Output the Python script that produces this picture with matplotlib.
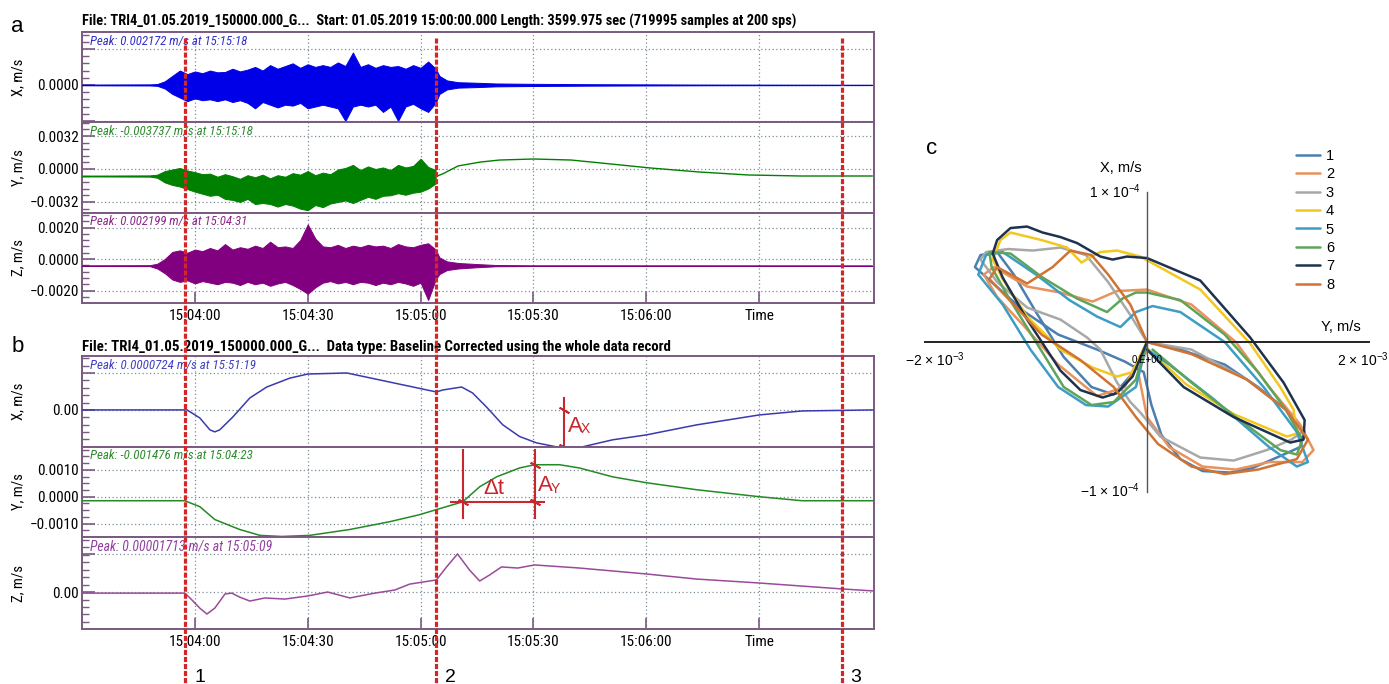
import numpy as np
import matplotlib
matplotlib.use('Agg')
import matplotlib.pyplot as plt
from matplotlib import font_manager
from matplotlib.transforms import blended_transform_factory
from matplotlib.lines import Line2D
from matplotlib.ticker import MultipleLocator

names = {f.name for f in font_manager.fontManager.ttflist}
_cands = ['Liberation Sans Narrow', 'Arial Narrow', 'Roboto Condensed', 'Open Sans Condensed']
NARROW = next((c for c in _cands if c in names), None)
HAS_NARROW = NARROW is not None
if not HAS_NARROW:
    NARROW = 'Liberation Sans'
plt.rcParams['font.family'] = [NARROW, 'DejaVu Sans']
plt.rcParams['mathtext.fontset'] = 'custom'
plt.rcParams['mathtext.rm'] = 'Liberation Sans'
plt.rcParams['mathtext.default'] = 'regular'
TICK_FS = 11 if HAS_NARROW else 9.6
YLAB_FS = 10.5 if HAS_NARROW else 9.2

# ---------------- data ----------------
# time in seconds after 15:03:30
time_ticks = [30, 60, 90, 120, 150, 180]
time_labels = ['15:04:00', '15:04:30', '15:05:00', '15:05:30', '15:06:00', 'Time']
marker_times = [27.5, 94.2, 202.0]
marker_labels = ['1', '2', '3']

title_a = 'File: TRI4_01.05.2019_150000.000_G...  Start: 01.05.2019 15:00:00.000 Length: 3599.975 sec (719995 samples at 200 sps)'
title_b = 'File: TRI4_01.05.2019_150000.000_G...  Data type: Baseline Corrected using the whole data record'
peaks_a = ['Peak: 0.002172 m/s at 15:15:18', 'Peak: -0.003737 m/s at 15:15:18', 'Peak: 0.002199 m/s at 15:04:31']
peaks_b = ['Peak: 0.0000724 m/s at 15:51:19', 'Peak: -0.001476 m/s at 15:04:23', 'Peak: 0.00001713 m/s at 15:05:09']
comp_labels = ['X, m/s', 'Y, m/s', 'Z, m/s']

# panel a: raw velocity envelopes (mm/s)
t_burst = [20, 22, 24, 26, 28, 30, 32, 34, 36, 38, 40, 42, 44, 46, 48, 50, 52, 54, 56, 58,
           60, 62, 64, 66, 68, 70, 72, 74, 76, 78, 80, 82, 84, 86, 88, 90, 92, 94]
ax_burst_hi = [0.05, 0.2, 0.5, 0.8, 0.6, 0.75, 0.65, 0.8, 0.7, 0.72,
               0.9, 0.75, 0.85, 1.0, 0.8, 1.1, 0.9, 1.05, 1.2, 0.95,
               1.15, 1.0, 1.1, 1.0, 1.25, 1.05, 1.8, 1.0, 1.15, 0.95,
               1.1, 1.0, 1.05, 0.9, 1.1, 0.95, 1.3, 0.9]
ax_burst_lo = [-0.05, -0.2, -0.5, -0.7, -0.9, -0.75, -0.85, -0.8, -0.9, -0.8,
               -0.95, -0.85, -1.0, -1.3, -0.95, -1.1, -1.25, -1.1, -1.15, -1.0,
               -1.3, -1.2, -1.1, -1.2, -1.3, -2.0, -1.2, -1.1, -1.2, -1.1,
               -1.5, -1.2, -2.0, -1.2, -1.05, -1.3, -1.5, -1.0]
ax_pre_t, ax_pre_hi, ax_pre_lo = [0, 18], [0.02, 0.03], [-0.02, -0.03]
ax_post_t = [95, 97, 100, 105, 110, 120, 135, 150, 165, 210]
ax_post_hi = [0.5, 0.25, 0.15, 0.12, 0.08, 0.06, 0.04, 0.03, 0.02, 0.01]
ax_post_lo = [-0.5, -0.25, -0.15, -0.12, -0.08, -0.06, -0.04, -0.03, -0.02, -0.01]

ay_burst_hi = [-0.55, -0.2, -0.05, 0.1, -0.15, -0.3, -0.5, -0.45, -0.75, -0.5,
               -0.7, -0.95, -0.6, -0.8, -0.55, -0.9, -0.6, -0.75, -0.4, -0.55,
               -0.2, -0.6, -0.35, -0.5, -0.05, 0.1, 0.4, -0.1, 0.25, 0.0,
               0.15, -0.1, 0.4, 0.15, 0.3, 1.0, 0.2, -0.1]
ay_burst_lo = [-0.85, -1.3, -1.55, -1.7, -1.95, -2.2, -2.4, -2.6, -2.5, -2.9,
               -3.0, -3.2, -2.9, -3.4, -3.3, -3.4, -3.65, -3.4, -3.55, -3.85,
               -4.0, -3.5, -3.7, -3.35, -3.2, -3.05, -3.3, -3.0, -2.7, -2.9,
               -2.6, -2.55, -2.35, -2.5, -2.3, -2.2, -1.9, -1.4]
ay_pre_t, ay_pre_hi, ay_pre_lo = [0, 18], [-0.64, -0.62], [-0.72, -0.74]
ay_tail_t = [94, 96, 100, 106, 111, 120, 130, 138, 151, 164, 177, 191, 210]
ay_tail_v = [-0.75, -0.45, 0.3, 0.68, 0.87, 0.97, 0.87, 0.58, 0.1, -0.29, -0.58, -0.68, -0.68]

az_burst_hi = [-0.3, 0.0, 0.45, 0.55, 0.4, 0.6, 0.5, 0.7, 0.55, 0.95,
               0.6, 0.75, 0.65, 0.85, 0.7, 1.1, 0.75, 0.8, 0.7, 1.2,
               2.2, 1.3, 0.8, 0.75, 0.9, 0.7, 0.85, 0.75, 0.9, 0.8,
               0.85, 0.7, 0.95, 0.8, 0.75, 0.9, 1.0, 0.6]
az_burst_lo = [-0.6, -0.9, -1.3, -1.45, -1.35, -1.55, -1.4, -1.5, -1.6, -1.45,
               -1.5, -1.65, -1.45, -1.6, -1.5, -1.7, -1.55, -1.45, -1.65, -1.9,
               -2.2, -1.8, -1.5, -1.4, -1.55, -1.45, -1.6, -1.45, -1.5, -1.65,
               -1.5, -1.6, -1.45, -1.55, -1.7, -1.5, -2.6, -1.3]
az_pre_t, az_pre_hi, az_pre_lo = [0, 18], [-0.40, -0.39], [-0.44, -0.45]
az_post_t = [95, 97, 100, 105, 110, 120, 210]
az_post_hi = [0.1, -0.15, -0.25, -0.32, -0.38, -0.40, -0.41]
az_post_lo = [-0.95, -0.7, -0.6, -0.52, -0.46, -0.44, -0.43]

# panel b: baseline corrected traces
bx_t = [0, 27.3, 27.9, 31.3, 34.0, 35.3, 36.6, 40.1, 44.6, 49.1, 55.2, 60.0, 70.4, 94.2, 95.9,
        100.9, 103.8, 107.5, 111.8, 116.3, 120.8, 126.1, 133.0, 141.0, 150.0, 163.3, 180.0, 191.4, 210.3]
bx_v = [0, 0, 0, -1.08, -2.7, -2.97, -2.7, -0.95, 1.62, 3.1, 4.3, 4.86, 5.0, 2.43, 2.7,
        3.1, 2.3, 0.4, -2.0, -3.6, -4.46, -5.0, -5.0, -4.05, -3.38, -2.03, -0.68, -0.14, 0]  # 1e-5 m/s

by_t = [0, 27.3, 31.3, 35.3, 41.9, 47.3, 53.1, 60.5, 71.2, 81.8, 89.7, 94.2, 101.2, 105.7, 110.2,
        116.3, 120.3, 126.9, 132.2, 141.0, 150.0, 163.3, 180.0, 191.4, 210.3]
by_v = [-0.15, -0.15, -0.37, -0.85, -1.22, -1.44, -1.48, -1.44, -1.22, -0.93, -0.67, -0.48, -0.19,
        0.37, 0.74, 1.07, 1.19, 1.19, 1.07, 0.74, 0.52, 0.26, 0.0, -0.15, -0.15]  # 1e-3 m/s

bz_t = [0, 27.3, 28.7, 31.3, 33.2, 35.3, 38.0, 39.8, 41.9, 44.6, 48.6, 53.9, 60.0, 65.3, 71.2, 77.8,
        83.1, 87.1, 94.2, 96.9, 99.8, 103.0, 105.7, 108.3, 111.5, 115.8, 120.3, 132.2, 150.0, 163.3,
        180.0, 202.0, 210.3]
bz_v = [-0.05, -0.05, -0.27, -0.73, -1.0, -0.73, -0.09, -0.05, -0.23, -0.41, -0.27, -0.32, -0.18,
        0.0, -0.27, -0.05, 0.09, 0.36, 0.55, 1.14, 1.73, 1.0, 0.5, 0.77, 1.14, 1.09, 1.23, 1.09,
        0.82, 0.59, 0.41, 0.14, 0.05]  # 1e-5 m/s

# panel c: particle motion loops, Y in 1e-3 m/s (horizontal), X in 1e-4 m/s (vertical)
loop_labels = ['1', '2', '3', '4', '5', '6', '7', '8']
loop_colors = ['#4a7fb0', '#e8925c', '#a8a8a8', '#f2c71e', '#3d9dc4', '#5ea55a', '#1e3250', '#cf7434']
Y1 = [0.0, 0.3, 0.7, 1.0, 1.3, 1.42, 1.38, 1.2, 0.95, 0.75, 0.5, 0.3, 0.13, 0.04, -0.03, -0.2, -0.45,
      -0.8, -1.1, -1.4, -1.55, -1.5, -1.35, -1.2, -1.0, -0.75, -0.5, -0.3, -0.12, 0.0]
X1 = [0.0, -0.05, -0.15, -0.3, -0.48, -0.6, -0.7, -0.76, -0.84, -0.87, -0.86, -0.78, -0.62, -0.42, -0.2,
      -0.13, -0.05, 0.05, 0.2, 0.4, 0.5, 0.58, 0.6, 0.45, 0.2, -0.1, -0.3, -0.35, -0.2, 0.0]
Y2 = [0.0, -0.2, -0.45, -0.8, -1.1, -1.35, -1.47, -1.38, -1.08, -0.78, -0.49, -0.27, 0.0, 0.4, 0.8, 1.1,
      1.38, 1.5, 1.4, 1.1, 0.8, 0.5, 0.2, 0.0, -0.08, 0.0]
X2 = [0.0, -0.3, -0.36, -0.15, 0.1, 0.3, 0.45, 0.5, 0.37, 0.33, 0.27, 0.34, 0.35, 0.25, 0.0, -0.3, -0.55,
      -0.72, -0.8, -0.8, -0.85, -0.83, -0.7, -0.5, -0.2, -0.05]
Y3 = [0.0, 0.4, 0.9, 1.25, 1.4, 1.3, 1.08, 0.78, 0.48, 0.12, -0.06, -0.15, -0.27, -0.42, -0.54, -0.78,
      -1.08, -1.35, -1.5, -1.45, -1.25, -1.03, -0.78, -0.55, -0.35, -0.15, 0.0]
X3 = [0.0, -0.05, -0.25, -0.45, -0.6, -0.65, -0.72, -0.79, -0.77, -0.63, -0.47, -0.4, -0.27, -0.05, 0.03,
      0.15, 0.23, 0.4, 0.55, 0.6, 0.62, 0.61, 0.63, 0.58, 0.4, 0.18, 0.0]
Y4 = [0.0, -0.13, -0.27, -0.49, -0.78, -1.08, -1.3, -1.39, -1.32, -1.23, -0.95, -0.72, -0.59, -0.5, -0.42,
      -0.27, -0.06, 0.48, 0.93, 1.2, 1.32, 1.35, 1.26, 0.78, 0.35, 0.0]
X4 = [0.0, -0.2, -0.23, -0.17, -0.05, 0.17, 0.42, 0.55, 0.68, 0.73, 0.68, 0.63, 0.53, 0.57, 0.6, 0.61,
      0.57, 0.35, -0.01, -0.3, -0.45, -0.61, -0.63, -0.48, -0.28, -0.04]
Y5 = [0.0, -0.1, -0.35, -0.55, -0.8, -1.05, -1.3, -1.52, -1.45, -1.3, -1.0, -0.7, -0.45, -0.24, -0.1, 0.05,
      0.3, 0.7, 1.05, 1.35, 1.45, 1.35, 1.1, 0.6, 0.2, 0.0]
X5 = [0.0, -0.3, -0.43, -0.42, -0.3, -0.05, 0.25, 0.45, 0.58, 0.6, 0.45, 0.28, 0.17, 0.1, 0.2, 0.24, 0.2,
      0.0, -0.3, -0.6, -0.8, -0.83, -0.7, -0.38, -0.15, -0.05]
Y6 = [0.0, -0.1, -0.3, -0.5, -0.75, -1.0, -1.25, -1.4, -1.42, -1.23, -0.94, -0.63, -0.36, -0.22, -0.1, 0.0,
      0.3, 0.7, 1.0, 1.25, 1.4, 1.35, 1.2, 0.8, 0.4, 0.05]
X6 = [0.0, -0.25, -0.4, -0.42, -0.3, 0.0, 0.3, 0.5, 0.6, 0.59, 0.43, 0.29, 0.2, 0.29, 0.33, 0.33, 0.28,
      0.05, -0.2, -0.45, -0.65, -0.75, -0.72, -0.5, -0.27, -0.05]
Y7 = [0.0, -0.13, -0.27, -0.4, -0.6, -0.78, -1.08, -1.3, -1.39, -1.35, -1.23, -1.08, -0.94, -0.78, -0.63,
      -0.42, -0.31, -0.18, 0.0, 0.48, 0.93, 1.23, 1.42, 1.41, 1.29, 0.78, 0.33, 0.0]
X7 = [0.0, -0.23, -0.34, -0.37, -0.32, -0.19, 0.15, 0.43, 0.59, 0.68, 0.76, 0.77, 0.73, 0.7, 0.66, 0.57,
      0.55, 0.57, 0.56, 0.41, 0.03, -0.27, -0.52, -0.65, -0.67, -0.5, -0.3, -0.05]
Y8 = [0.0, 0.4, 0.9, 1.25, 1.45, 1.35, 1.0, 0.7, 0.4, 0.1, -0.1, -0.3, -0.6, -0.95, -1.2, -1.42, -1.35,
      -1.08, -0.85, -0.69, -0.5, -0.35, -0.15, -0.03, 0.0]
X8 = [0.0, -0.08, -0.25, -0.45, -0.65, -0.78, -0.85, -0.88, -0.83, -0.68, -0.5, -0.3, -0.12, 0.05, 0.25,
      0.42, 0.5, 0.39, 0.5, 0.61, 0.58, 0.45, 0.25, 0.05, 0.0]

# ---------------- figure ----------------
W, H = 1389, 684
fig = plt.figure(figsize=(W / 100, H / 100), dpi=100)


def box(x0, y0, x1, y1):
    return [x0 / W, 1 - y1 / H, (x1 - x0) / W, (y1 - y0) / H]


SPINE = '#7a5a80'
GRID = '#7d8e98'
RED = '#d42626'
T0, T1 = 0, 210.5
AXL, AXR = 82, 874
a_rows = [(32, 122), (122, 213), (213, 303)]
b_rows = [(356, 447), (447, 537), (537, 629)]


def style(ax, ylim, yticks, ylabels, minor, ylabel, bottom):
    ax.set_xlim(T0, T1)
    ax.set_ylim(*ylim)
    ax.set_yticks(yticks)
    ax.set_yticklabels(ylabels)
    ax.yaxis.set_minor_locator(MultipleLocator(minor))
    ax.set_xticks(time_ticks)
    ax.tick_params(axis='y', which='major', direction='in', length=9, width=1.2,
                   color=SPINE, labelsize=TICK_FS, pad=2, right=False)
    ax.tick_params(axis='y', which='minor', direction='in', length=5, width=1.0,
                   color=SPINE, right=False)
    ax.tick_params(axis='x', which='major', direction='in', length=8 if bottom else 0,
                   width=1.2, color=SPINE, labelsize=TICK_FS, labelbottom=bottom, pad=4, top=False)
    if bottom:
        ax.set_xticklabels(time_labels)
    ax.grid(True, which='major', linestyle=(0, (1, 2)), color=GRID, linewidth=0.9)
    for s in ax.spines.values():
        s.set_color(SPINE)
        s.set_linewidth(1.4)
    ax.set_ylabel(ylabel, fontsize=YLAB_FS)
    ax.yaxis.set_label_coords(-0.072, 0.5)


# ---- panel a ----
colors_a = ['#0000e8', '#008000', '#800080']
peak_colors_a = ['#3030c8', '#2e8b2e', '#8a2a8a']
axes_a = [fig.add_axes(box(AXL, r0, AXR, r1)) for r0, r1 in a_rows]

ta = ax_pre_t + t_burst + ax_post_t
axes_a[0].fill_between(ta, np.array(ax_pre_hi + ax_burst_hi + ax_post_hi) * 1e-3,
                       np.array(ax_pre_lo + ax_burst_lo + ax_post_lo) * 1e-3,
                       color=colors_a[0], linewidth=0.7, zorder=3)
style(axes_a[0], (-2.06e-3, 2.94e-3), [-0.002, 0, 0.002], ['', '0.0000', ''], 0.0004,
      comp_labels[0], False)

ty = ay_pre_t + t_burst
axes_a[1].fill_between(ty, np.array(ay_pre_hi + ay_burst_hi) * 1e-3,
                       np.array(ay_pre_lo + ay_burst_lo) * 1e-3,
                       color=colors_a[1], linewidth=0.7, zorder=3)
axes_a[1].plot(ay_tail_t, np.array(ay_tail_v) * 1e-3, color=colors_a[1], lw=1.0, zorder=3)
style(axes_a[1], (-4.27e-3, 4.56e-3), [-0.0032, 0, 0.0032], ['\u22120.0032', '0.0000', '0.0032'],
      0.00064, comp_labels[1], False)

tz = az_pre_t + t_burst + az_post_t
axes_a[2].fill_between(tz, np.array(az_pre_hi + az_burst_hi + az_post_hi) * 1e-3,
                       np.array(az_pre_lo + az_burst_lo + az_post_lo) * 1e-3,
                       color=colors_a[2], linewidth=0.7, zorder=3)
style(axes_a[2], (-2.79e-3, 2.92e-3), [-0.002, 0, 0.002], ['\u22120.0020', '0.0000', '0.0020'],
      0.0004, comp_labels[2], True)

peak_texts = []
peak_widths_a = [158, 163, 158]
for ax, txt, c, wpx in zip(axes_a, peaks_a, peak_colors_a, peak_widths_a):
    t = ax.text(0.01, 0.9, txt, transform=ax.transAxes, color=c, fontsize=10, style='italic',
                va='center', ha='left', zorder=5)
    peak_texts.append((t, wpx))

# ---- panel b ----
colors_b = ['#3a3ab0', '#248a24', '#9a4a9a']
peak_colors_b = ['#4040c0', '#2e8b2e', '#9040a0']
axes_b = [fig.add_axes(box(AXL, r0, AXR, r1)) for r0, r1 in b_rows]
axes_b[0].plot(bx_t, np.array(bx_v) * 1e-5, color=colors_b[0], lw=1.1, zorder=3)
style(axes_b[0], (-5.02e-5, 7.3e-5), [0, 5e-5], ['0.00', ''], 1e-5, comp_labels[0], False)
axes_b[1].plot(by_t, np.array(by_v) * 1e-3, color=colors_b[1], lw=1.1, zorder=3)
style(axes_b[1], (-1.50e-3, 1.85e-3), [-0.001, 0, 0.001], ['\u22120.0010', '0.0000', '0.0010'],
      0.00025, comp_labels[1], False)
axes_b[2].plot(bz_t, np.array(bz_v) * 1e-5, color=colors_b[2], lw=1.1, zorder=3)
style(axes_b[2], (-1.68e-5, 2.5e-5), [0, 1.73e-5], ['0.00', ''], 3.4e-6, comp_labels[2], True)

peak_widths_b = [166, 163, 181]
for ax, txt, c, wpx in zip(axes_b, peaks_b, peak_colors_b, peak_widths_b):
    t = ax.text(0.01, 0.9, txt, transform=ax.transAxes, color=c, fontsize=10, style='italic',
                va='center', ha='left', zorder=5)
    peak_texts.append((t, wpx))

# titles and panel letters
ta_txt = fig.text(AXL / W, 1 - 21 / H, title_a, fontsize=10, fontweight='bold', va='center', ha='left')
tb_txt = fig.text(AXL / W, 1 - 347 / H, title_b, fontsize=10, fontweight='bold', va='center', ha='left')
fig.text(17 / W, 1 - 26 / H, 'a', fontsize=16, va='center', ha='center', family='Liberation Sans')
fig.text(18 / W, 1 - 347 / H, 'b', fontsize=16, va='center', ha='center', family='Liberation Sans')
fig.text(932 / W, 1 - 149 / H, 'c', fontsize=16, va='center', ha='center', family='Liberation Sans')

fig.canvas.draw()
rend = fig.canvas.get_renderer()
for t, target in [(ta_txt, 721), (tb_txt, 591)] + peak_texts:
    w = t.get_window_extent(rend).width
    t.set_fontsize(t.get_fontsize() * target / w)

# annotations on panel b
AC = '#c8282d'
axY = axes_b[1]
axY.plot([101.2, 101.2], [1.74e-3, -0.78e-3], color=AC, lw=1.5, clip_on=False, zorder=6)
axY.plot([120.3, 120.3], [1.74e-3, -0.78e-3], color=AC, lw=1.5, clip_on=False, zorder=6)
axY.plot([98.2, 122.9], [-0.185e-3, -0.185e-3], color=AC, lw=1.5, clip_on=False, zorder=6)
axY.plot([101.2, 120.3, 120.3], [-0.185e-3, -0.185e-3, 1.19e-3], linestyle='none',
         marker=(2, 2, 60), markersize=8, mec=AC, mew=1.3, zorder=6)
axY.text(109.6, 0.30e-3, '\u0394t', color=AC, fontsize=16, ha='center', va='center',
         family='Liberation Sans', zorder=6)
axY.text(121.3, 0.40e-3, 'A', color=AC, fontsize=16, ha='left', va='center',
         family='Liberation Sans', zorder=6)
axY.text(124.6, 0.30e-3, 'Y', color=AC, fontsize=10, ha='left', va='center',
         family='Liberation Sans', zorder=6)
axX = axes_b[0]
axX.plot([128.2, 128.2], [1.62e-5, -6.49e-5], color=AC, lw=1.5, clip_on=False, zorder=6)
axX.plot([128.2, 128.2], [0.0, -5.0e-5], linestyle='none', marker=(2, 2, 60), markersize=8,
         mec=AC, mew=1.3, clip_on=False, zorder=6)
axX.text(129.2, -2.2e-5, 'A', color=AC, fontsize=16, ha='left', va='center',
         family='Liberation Sans', zorder=6)
axX.text(132.6, -2.6e-5, 'X', color=AC, fontsize=10, ha='left', va='center',
         family='Liberation Sans', zorder=6)

# red dashed event markers across both panels
trans = blended_transform_factory(axes_a[0].transData, fig.transFigure)
for tm, lab in zip(marker_times, marker_labels):
    fig.add_artist(Line2D([tm, tm], [1 - 38 / H, 0], transform=trans, color=RED, lw=2.3,
                          linestyle=(0, (1.6, 0.6)), zorder=20))
    fig.text(tm + 2.3, 1 - 677 / H, lab, transform=trans, fontsize=14, va='center', ha='left',
             family='Liberation Sans')

# ---- panel c ----
axc = fig.add_axes(box(920, 185, 1380, 500))
axc.set_xlim(-2.045e-3, 2.099e-3)
axc.set_ylim(-1.053e-4, 1.047e-4)
axc.patch.set_alpha(0)
for s in ['top', 'right']:
    axc.spines[s].set_visible(False)
axc.spines['left'].set_position('zero')
axc.spines['bottom'].set_position('zero')
axc.spines['bottom'].set_bounds(-2e-3, 2e-3)
axc.spines['left'].set_bounds(-1e-4, 1e-4)
axc.spines['bottom'].set_color('#222222')
axc.spines['bottom'].set_linewidth(1.4)
axc.spines['left'].set_color('#555555')
axc.spines['left'].set_linewidth(1.0)
axc.set_xticks([])
axc.set_yticks([])

loops_Y = [Y1, Y2, Y3, Y4, Y5, Y6, Y7, Y8]
loops_X = [X1, X2, X3, X4, X5, X6, X7, X8]
handles = []
for ys, xs, c, lab in zip(loops_Y, loops_X, loop_colors, loop_labels):
    h, = axc.plot(np.array(ys) * 1e-3, np.array(xs) * 1e-4, color=c, lw=1.8, label=lab,
                  solid_joinstyle='round', solid_capstyle='round')
    handles.append(h)

cf = 'Liberation Sans'
axc.text(-0.234e-3, 1.16e-4, 'X, m/s', fontsize=10.5, ha='center', va='center', family=cf)
axc.text(1.75e-3, 0.10e-4, 'Y, m/s', fontsize=10.5, ha='center', va='center', family=cf)
axc.text(-0.06e-3, 1.0e-4, '1 \u00d7 10$^{-4}$', fontsize=10, ha='right', va='center', family=cf)
axc.text(-0.06e-3, -0.99e-4, '\u22121 \u00d7 10$^{-4}$', fontsize=10, ha='right', va='center', family=cf)
axc.text(-1.91e-3, -0.12e-4, '\u22122 \u00d7 10$^{-3}$', fontsize=10, ha='center', va='center', family=cf)
axc.text(1.94e-3, -0.12e-4, '2 \u00d7 10$^{-3}$', fontsize=10, ha='center', va='center', family=cf)
axc.text(0.0, -0.12e-4, '0.E+00', fontsize=7, ha='center', va='center', family=cf)

axc.legend(handles=handles, loc='upper left', bbox_to_anchor=(1296 / W, 1 - 149 / H),
           bbox_transform=fig.transFigure, frameon=False, prop={'family': cf, 'size': 10.5},
           handlelength=1.65, handletextpad=0.4, labelspacing=0.3, borderpad=0, borderaxespad=0)

fig.savefig('out.png', dpi=100)
